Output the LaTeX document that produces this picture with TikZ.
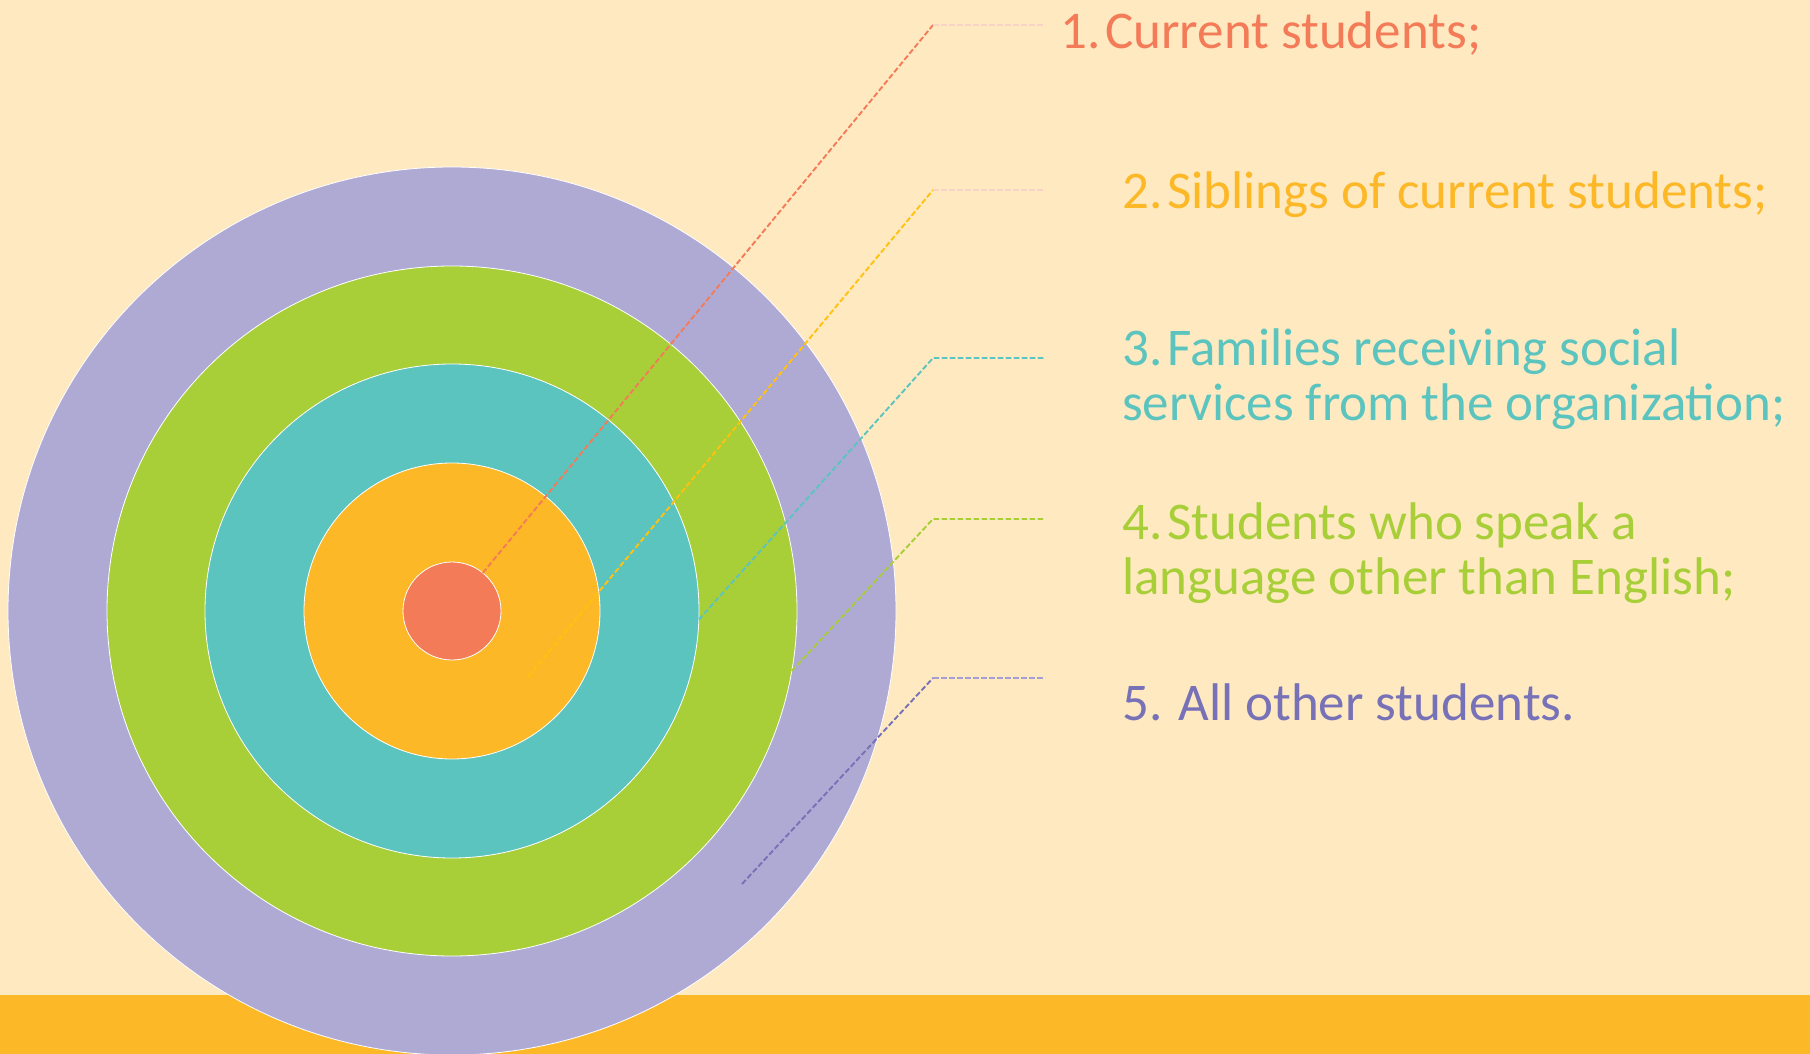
\documentclass[tikz,border=0pt]{standalone}
\usepackage{fontspec}
\setmainfont{Carlito}
\definecolor{bgcream}{HTML}{FEE9C0}
\definecolor{barorange}{HTML}{FCB827}
\definecolor{cpurple}{HTML}{AFAAD4}
\definecolor{cgreen}{HTML}{A8CE38}
\definecolor{cteal}{HTML}{5BC4BF}
\definecolor{corange}{HTML}{FCB827}
\definecolor{cred}{HTML}{F47B58}
\definecolor{tpurple}{HTML}{7771B7}
\definecolor{lyellow}{HTML}{FFC20E}
\definecolor{lpink}{HTML}{F9D2C8}
\definecolor{lpurple}{HTML}{A49ED2}
\tikzset{
  ring/.style={circle, inner sep=0pt, outer sep=0pt, draw=white, line width=0.8pt},
  lead/.style={dashed, dash pattern=on 5.5pt off 2.5pt, line width=1.9pt},
  lbl/.style={anchor=base west, inner sep=0pt, font=\fontsize{53}{58}\selectfont}
}
\begin{document}
\begin{tikzpicture}[x=1pt,y=-1pt]
\useasboundingbox (0,0) rectangle (1810,1054);
\clip (0,0) rectangle (1810,1054);
\fill[bgcream] (0,0) rectangle (1810,1054);
\fill[barorange] (0,995) rectangle (1810,1054);
% target circles
\node[ring, fill=cpurple, minimum size=888pt] (c5) at (452,611) {};
\node[ring, fill=cgreen,  minimum size=690pt] (c4) at (452,611) {};
\node[ring, fill=cteal,   minimum size=494pt] (c3) at (452,611) {};
\node[ring, fill=corange, minimum size=296pt] (c2) at (452,611) {};
\node[ring, fill=cred,    minimum size=98pt]  (c1) at (452,611) {};
% leader coordinates
\coordinate (s2) at (528,677);
\coordinate (s5) at (742,884);
\coordinate (k1) at (933,25);
\coordinate (k2) at (933,190);
\coordinate (k3) at (933,358);
\coordinate (k4) at (933,519);
\coordinate (k5) at (933,678);
\coordinate (e1) at (1045,25);
\coordinate (e2) at (1045,190);
\coordinate (e3) at (1045,358);
\coordinate (e4) at (1045,519);
\coordinate (e5) at (1045,678);
% leaders
\draw[lead, cred] (c1.51) -- (k1);
\draw[lead, lpink] (k1) -- (e1);
\draw[lead, lyellow] (s2) -- (k2);
\draw[lead, lpink] (k2) -- (e2);
\draw[lead, cteal] (c3.-2) -- (k3) -- (e3);
\draw[lead, cgreen] (c4.-10.5) -- (k4) -- (e4);
\draw[lead, tpurple] (s5) -- (k5);
\draw[lead, lpurple] (k5) -- (e5);
% labels
\node[lbl, text=cred] (t1) at (1060,48.5) {1.\hspace{5pt}Current students;};
\node[lbl, text=corange] (t2) at (1122,208) {2.\hspace{5pt}Siblings of current students;};
\node[lbl, text=cteal] (t3a) at (1122,365) {3.\hspace{5pt}Families receiving social};
\node[lbl, text=cteal] (t3b) at (1122,420) {services from the organization;};
\node[lbl, text=cgreen] (t4a) at (1122,539) {4.\hspace{5pt}Students who speak a};
\node[lbl, text=cgreen] (t4b) at (1122,594.5) {language other than English;};
\node[lbl, text=tpurple] (t5) at (1122,720) {5.\hspace{16pt}All other students.};
\end{tikzpicture}
\end{document}
